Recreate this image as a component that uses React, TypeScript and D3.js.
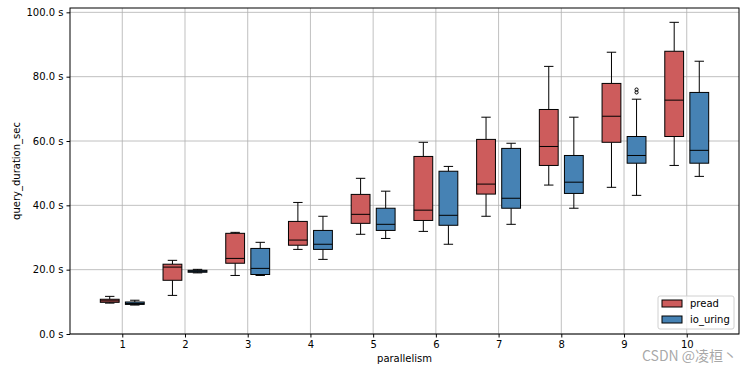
import { useRef, useEffect } from 'react'
import * as d3 from 'd3'

// parallelism levels on the x axis
const parallelism = [1, 2, 3, 4, 5, 6, 7, 8, 9, 10]
const yTicks = [0, 20, 40, 60, 80, 100]

// pread box stats (seconds)
const preadLow = [9.6, 12.0, 18.2, 26.3, 31.0, 31.9, 36.6, 46.3, 45.6, 52.4]
const preadQ1 = [9.85, 16.7, 22.0, 27.6, 34.4, 35.3, 43.5, 52.4, 59.6, 61.4]
const preadMed = [10.3, 20.8, 23.5, 29.2, 37.2, 38.5, 46.6, 58.3, 67.7, 72.7]
const preadQ3 = [10.8, 21.7, 31.3, 35.0, 43.4, 55.2, 60.5, 69.8, 77.9, 87.9]
const preadHigh = [11.7, 22.9, 31.6, 40.9, 48.4, 59.6, 67.4, 83.2, 87.6, 96.9]

// io_uring box stats (seconds)
const uringLow = [9.0, 19.0, 18.2, 23.2, 29.7, 27.9, 34.1, 39.1, 43.1, 49.0]
const uringQ1 = [9.2, 19.2, 18.5, 26.3, 32.2, 33.8, 39.1, 43.7, 53.1, 53.1]
const uringMed = [9.5, 19.5, 20.4, 27.9, 34.1, 36.9, 42.2, 47.2, 55.5, 57.1]
const uringQ3 = [9.95, 19.8, 26.6, 32.2, 39.1, 50.6, 57.7, 55.5, 61.4, 75.1]
const uringHigh = [10.5, 20.1, 28.5, 36.6, 44.4, 52.1, 59.3, 67.4, 73.0, 84.8]

// io_uring outliers: [parallelism, value]
const uringOutliers: [number, number][] = [[9, 76.0], [9, 75.1]]

const seriesNames = ['pread', 'io_uring']
const seriesColors = ['#cd5c5c', '#4682b4']

export default function App() {
    const svgRef = useRef<SVGSVGElement>(null)

    useEffect(() => {
        if (!svgRef.current) return
        const svg = d3.select(svgRef.current)
        svg.selectAll('*').remove()

        const width = 751
        const height = 369
        const left = 70, right = 739, top = 8, bottom = 334
        const font = 'DejaVu Sans, sans-serif'

        svg.attr('width', width).attr('height', height)
        svg.append('rect').attr('width', width).attr('height', height).attr('fill', '#fff')

        const x = d3.scaleLinear().domain([1 / 6, 10 + 5 / 6]).range([left, right])
        const y = d3.scaleLinear().domain([0, 101.35]).range([bottom, top])

        // Grid
        const grid = svg.append('g')
        grid.selectAll('.gx').data(parallelism).enter().append('line')
            .attr('x1', d => x(d)).attr('x2', d => x(d))
            .attr('y1', top).attr('y2', bottom)
            .style('stroke', '#b0b0b0').style('stroke-width', 0.8)
        grid.selectAll('.gy').data(yTicks).enter().append('line')
            .attr('x1', left).attr('x2', right)
            .attr('y1', d => y(d)).attr('y2', d => y(d))
            .style('stroke', '#b0b0b0').style('stroke-width', 0.8)

        // Boxes
        const series = [
            { low: preadLow, q1: preadQ1, med: preadMed, q3: preadQ3, high: preadHigh, off: -0.2 },
            { low: uringLow, q1: uringQ1, med: uringMed, q3: uringQ3, high: uringHigh, off: 0.2 },
        ]
        const boxW = 0.3
        series.forEach((s, si) => {
            const g = svg.append('g')
            parallelism.forEach((p, i) => {
                const cx = x(p + s.off)
                const x0 = x(p + s.off - boxW / 2)
                const x1 = x(p + s.off + boxW / 2)
                const capHalf = (x1 - x0) / 4
                // whiskers
                g.append('line').attr('x1', cx).attr('x2', cx)
                    .attr('y1', y(s.q3[i])).attr('y2', y(s.high[i]))
                    .style('stroke', '#000').style('stroke-width', 1)
                g.append('line').attr('x1', cx).attr('x2', cx)
                    .attr('y1', y(s.q1[i])).attr('y2', y(s.low[i]))
                    .style('stroke', '#000').style('stroke-width', 1)
                g.append('line').attr('x1', cx - capHalf).attr('x2', cx + capHalf)
                    .attr('y1', y(s.high[i])).attr('y2', y(s.high[i]))
                    .style('stroke', '#000').style('stroke-width', 1)
                g.append('line').attr('x1', cx - capHalf).attr('x2', cx + capHalf)
                    .attr('y1', y(s.low[i])).attr('y2', y(s.low[i]))
                    .style('stroke', '#000').style('stroke-width', 1)
                // box
                g.append('rect')
                    .attr('x', x0).attr('y', y(s.q3[i]))
                    .attr('width', x1 - x0)
                    .attr('height', Math.max(1, y(s.q1[i]) - y(s.q3[i])))
                    .style('fill', seriesColors[si])
                    .style('stroke', '#000').style('stroke-width', 1)
                // median
                g.append('line').attr('x1', x0).attr('x2', x1)
                    .attr('y1', y(s.med[i])).attr('y2', y(s.med[i]))
                    .style('stroke', '#000').style('stroke-width', 1)
            })
        })

        // Outliers
        svg.selectAll('.outlier').data(uringOutliers).enter().append('circle')
            .attr('cx', d => x(d[0] + 0.2)).attr('cy', d => y(d[1]))
            .attr('r', 1.6)
            .style('fill', 'none').style('stroke', '#000').style('stroke-width', 1)

        // Spines
        svg.append('rect')
            .attr('x', left).attr('y', top)
            .attr('width', right - left).attr('height', bottom - top)
            .style('fill', 'none').style('stroke', '#000').style('stroke-width', 1)

        // X axis
        const xAxis = svg.append('g')
            .attr('transform', `translate(0,${bottom})`)
            .call(d3.axisBottom(x).tickValues(parallelism).tickSize(3.5).tickFormat(d => `${d}`))
        xAxis.select('.domain').remove()
        xAxis.selectAll('text').style('font-family', font).style('font-size', '10px').style('fill', '#000')
        xAxis.selectAll('.tick line').style('stroke', '#000')

        // Y axis
        const yAxis = svg.append('g')
            .attr('transform', `translate(${left},0)`)
            .call(d3.axisLeft(y).tickValues(yTicks).tickSize(3.5).tickFormat(d => `${(+d).toFixed(1)} s`))
        yAxis.select('.domain').remove()
        yAxis.selectAll('text').style('font-family', font).style('font-size', '10px').style('fill', '#000')
        yAxis.selectAll('.tick line').style('stroke', '#000')

        // Axis labels
        svg.append('text')
            .attr('x', (left + right) / 2).attr('y', 362)
            .attr('text-anchor', 'middle')
            .style('font-family', font).style('font-size', '10px')
            .text('parallelism')
        svg.append('text')
            .attr('transform', `translate(20,${(top + bottom) / 2}) rotate(-90)`)
            .attr('text-anchor', 'middle')
            .style('font-family', font).style('font-size', '10px')
            .text('query_duration_sec')

        // Legend
        const lg = svg.append('g').attr('transform', 'translate(658,296)')
        lg.append('rect')
            .attr('width', 76).attr('height', 33).attr('rx', 2)
            .style('fill', '#fff').style('fill-opacity', 0.8)
            .style('stroke', '#d0d0d0').style('stroke-width', 1)
        seriesNames.forEach((name, i) => {
            lg.append('rect')
                .attr('x', 4).attr('y', 4 + i * 16)
                .attr('width', 20).attr('height', 7)
                .style('fill', seriesColors[i]).style('stroke', '#000').style('stroke-width', 1)
            lg.append('text')
                .attr('x', 32).attr('y', 11 + i * 16)
                .style('font-family', font).style('font-size', '10px')
                .text(name)
        })

        // Watermark
        svg.append('text')
            .attr('x', 642).attr('y', 361)
            .style('font-family', 'Noto Sans CJK SC, sans-serif').style('font-size', '14px')
            .style('fill', '#999').style('fill-opacity', 0.85)
            .text('CSDN @凌桓丶')
    }, [])

    return (
        <svg ref={svgRef} style={{ position: 'absolute', left: 0, top: 0, display: 'block' }} />
    )
}
